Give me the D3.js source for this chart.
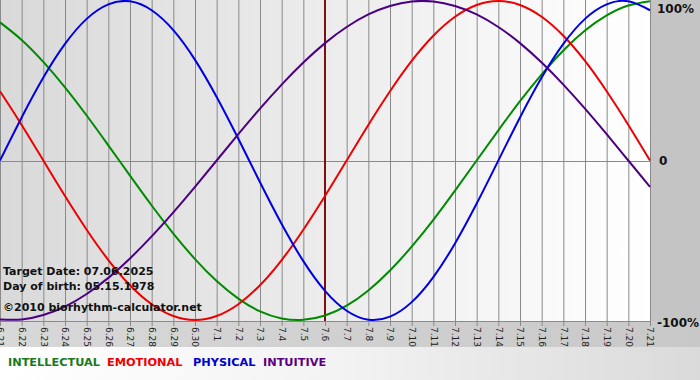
<!DOCTYPE html>
<html><head><meta charset="utf-8">
<script src="https://cdn.jsdelivr.net/npm/d3@7"></script>
<style>html,body{margin:0;padding:0;background:#fff;}svg{display:block;}</style>
</head><body>
<svg id="c" width="700" height="380"></svg>
<script>
const days = ["6.21","6.22","6.23","6.24","6.25","6.26","6.27","6.28","6.29","6.30","7.1","7.2","7.3","7.4","7.5","7.6","7.7","7.8","7.9","7.10","7.11","7.12","7.13","7.14","7.15","7.16","7.17","7.18","7.19","7.20","7.21"];
const intellectual = [0.866,0.756,0.618,0.458,0.282,0.095,-0.095,-0.282,-0.458,-0.618,-0.756,-0.866,-0.946,-0.990,-0.999,-0.972,-0.910,-0.815,-0.690,-0.540,-0.372,-0.189,0,0.189,0.372,0.540,0.690,0.815,0.910,0.972,0.999];
const emotional = [0.434,0.223,0,-0.223,-0.434,-0.624,-0.782,-0.901,-0.975,-1,-0.975,-0.901,-0.782,-0.624,-0.434,-0.223,0,0.223,0.434,0.624,0.782,0.901,0.975,1,0.975,0.901,0.782,0.624,0.434,0.223,0];
const physical = [0,0.270,0.520,0.731,0.888,0.979,0.998,0.942,0.817,0.631,0.398,0.136,-0.136,-0.398,-0.631,-0.817,-0.942,-0.998,-0.979,-0.888,-0.731,-0.520,-0.270,0,0.270,0.520,0.731,0.888,0.979,0.998,0.942];
const intuitive = [-0.997,-0.997,-0.969,-0.916,-0.837,-0.736,-0.614,-0.476,-0.325,-0.165,0,0.165,0.325,0.476,0.614,0.736,0.837,0.916,0.969,0.997,0.997,0.969,0.916,0.837,0.736,0.614,0.476,0.325,0.165,0,-0.165];
const seriesNames = ["INTELLECTUAL","EMOTIONAL","PHYSICAL","INTUITIVE"];
const yTickLabels = ["100%","0","-100%"];
const yTickValues = [1,0,-1];
const targetDay = "7.6";
const infoLines = ["Target Date: 07.06.2025","Day of birth: 05.15.1978","©2010 biorhythm-calculator.net"];

const svg = d3.select("#c");
const W = 700, H = 380;
const plot = {l:0, r:650, t:0, b:321};
const defs = svg.append("defs");
const g1 = defs.append("linearGradient").attr("id","plotg").attr("x1","0").attr("x2","1").attr("y1","0").attr("y2","0");
g1.append("stop").attr("offset","0").attr("stop-color","#d9d9d9");
g1.append("stop").attr("offset","1").attr("stop-color","#ffffff");
const g2 = defs.append("linearGradient").attr("id","botg").attr("x1","0").attr("x2","1").attr("y1","0").attr("y2","0");
g2.append("stop").attr("offset","0").attr("stop-color","#ffffff");
g2.append("stop").attr("offset","0.5").attr("stop-color","#f2f2f2");
g2.append("stop").attr("offset","1").attr("stop-color","#dadada");
const g3 = defs.append("linearGradient").attr("id","axg").attr("x1","0").attr("x2","1").attr("y1","0").attr("y2","0");
g3.append("stop").attr("offset","0").attr("stop-color","#d8d8d8");
g3.append("stop").attr("offset","1").attr("stop-color","#c8c8c8");

svg.append("rect").attr("x",0).attr("y",0).attr("width",W).attr("height",H).attr("fill","#c4c4c4");
svg.append("rect").attr("x",0).attr("y",plot.b).attr("width",W).attr("height",26).attr("fill","url(#axg)");
svg.append("rect").attr("x",0).attr("y",347).attr("width",W).attr("height",H-347).attr("fill","url(#botg)");
svg.append("rect").attr("x",plot.l).attr("y",plot.t).attr("width",plot.r-plot.l).attr("height",plot.b-plot.t).attr("fill","url(#plotg)");

const x = d3.scalePoint().domain(days).range([plot.l, plot.r]);
const y = d3.scaleLinear().domain([-1,1]).range([320, 1]);

// vertical grid
svg.append("g").selectAll("line").data(days).join("line")
  .attr("x1",d=>x(d)+0.5).attr("x2",d=>x(d)+0.5).attr("y1",plot.t).attr("y2",plot.b+5)
  .attr("stroke","#8a8a8a").attr("stroke-width",1);
// zero line
svg.append("line").attr("x1",plot.l).attr("x2",plot.r).attr("y1",Math.round(y(0))+0.5).attr("y2",Math.round(y(0))+0.5)
  .attr("stroke","#8a8a8a");
// bottom line
svg.append("line").attr("x1",plot.l).attr("x2",plot.r+1).attr("y1",plot.b+0.5).attr("y2",plot.b+0.5).attr("stroke","#8a8a8a");

// x axis labels
const xAxis = d3.axisBottom(x).tickSize(0).tickPadding(0);
const ax = svg.append("g").attr("transform",`translate(0,${plot.b+4})`).call(xAxis);
ax.select(".domain").remove();
ax.selectAll("text").attr("transform","rotate(90)").attr("text-anchor","start")
  .attr("x",2).attr("y",0).attr("dy","0.35em")
  .attr("font-family","Verdana, 'DejaVu Sans', sans-serif").attr("font-size","9px").attr("fill","#222");

// target line
svg.append("line").attr("x1",x(targetDay)).attr("x2",x(targetDay)).attr("y1",plot.t).attr("y2",plot.b)
  .attr("stroke","#7a1010").attr("stroke-width",2);

const colors = ["#008a00","#ee0000","#0000e0","#4b0082"];
const data = [intellectual, emotional, physical, intuitive];
const line = d3.line().x((d,i)=>x(days[i])).y(d=>y(d)).curve(d3.curveNatural);
svg.append("g").selectAll("path").data(data).join("path")
  .attr("d",line).attr("fill","none").attr("stroke",(d,i)=>colors[i]).attr("stroke-width",2);

// y labels
svg.append("g").selectAll("text").data(yTickValues).join("text")
  .attr("x",(d,i)=> i===1 ? 659 : 657)
  .attr("y",(d,i)=> [13,165,327][i])
  .text((d,i)=>yTickLabels[i])
  .attr("font-family","Verdana, 'DejaVu Sans', sans-serif").attr("font-weight","bold").attr("font-size","12px").attr("fill","#111");

// info text
svg.append("g").selectAll("text").data(infoLines).join("text")
  .attr("x",3).attr("y",(d,i)=>[275,290,311][i]).text(d=>d)
  .attr("font-family","Verdana, 'DejaVu Sans', sans-serif").attr("font-weight","bold").attr("font-size","11px").attr("fill","#111");

// legend
const legX = [8,107,193,263];
const legColors = ["#1a7a1a","#ee0000","#0000cc","#5a0080"];
svg.append("g").selectAll("text").data(seriesNames).join("text")
  .attr("x",(d,i)=>legX[i]).attr("y",366).text(d=>d)
  .attr("font-family","Verdana, 'DejaVu Sans', sans-serif").attr("font-weight","bold").attr("font-size","11.3px")
  .attr("fill",(d,i)=>legColors[i]);
</script>
</body></html>
